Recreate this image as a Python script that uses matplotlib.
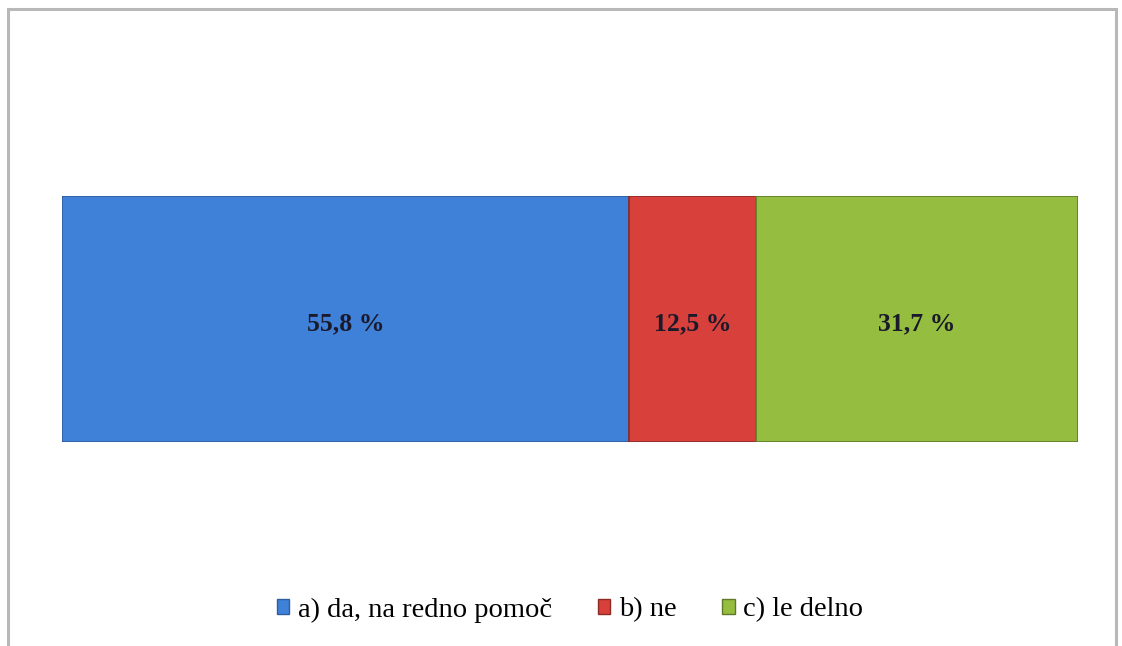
import matplotlib
matplotlib.use("Agg")
import matplotlib.pyplot as plt
from matplotlib.patches import Rectangle, Patch

categories = ["a) da, na redno pomoč", "b) ne", "c) le delno"]
values = [55.8, 12.5, 31.7]
labels = ["55,8 %", "12,5 %", "31,7 %"]
colors = ["#3F80D8", "#D8403B", "#95BE40"]
edges = ["#2E5E9E", "#8E2A26", "#5E7A28"]

W, H = 1122, 646
fig = plt.figure(figsize=(W / 100, H / 100), dpi=100)
fig.patch.set_facecolor("white")

# outer frame
fig.add_artist(Rectangle((8 / W, -0.05), 1108 / W, 1.05 - 9 / H, transform=fig.transFigure,
                         fill=False, edgecolor="#B8B8B8", linewidth=2.2))

ax = fig.add_axes([62 / W, 1 - 442 / H, 1016 / W, 246 / H])
left = 0
for v, lab, c, e in zip(values, labels, colors, edges):
    ax.barh(0, v, left=left, height=1.0, color=c, edgecolor=e, linewidth=1.2)
    ax.text(left + v / 2, -0.02, lab, ha="center", va="center", fontsize=18.5,
            fontweight="bold", family="Liberation Serif", color="#1a1a2a")
    left += v
ax.set_xlim(0, sum(values))
ax.set_ylim(-0.5, 0.5)
ax.axis("off")

handles = [Patch(facecolor=c, edgecolor=e) for c, e in zip(colors, edges)]
fig.legend(handles, categories, loc="center", bbox_to_anchor=(570 / W, 1 - 610 / H),
           ncol=3, frameon=False, prop={"family": "Liberation Serif", "size": 20.5},
           handlelength=0.45, handleheight=0.45, handletextpad=0.3, columnspacing=1.6)

fig.savefig("out.png", dpi=100)
